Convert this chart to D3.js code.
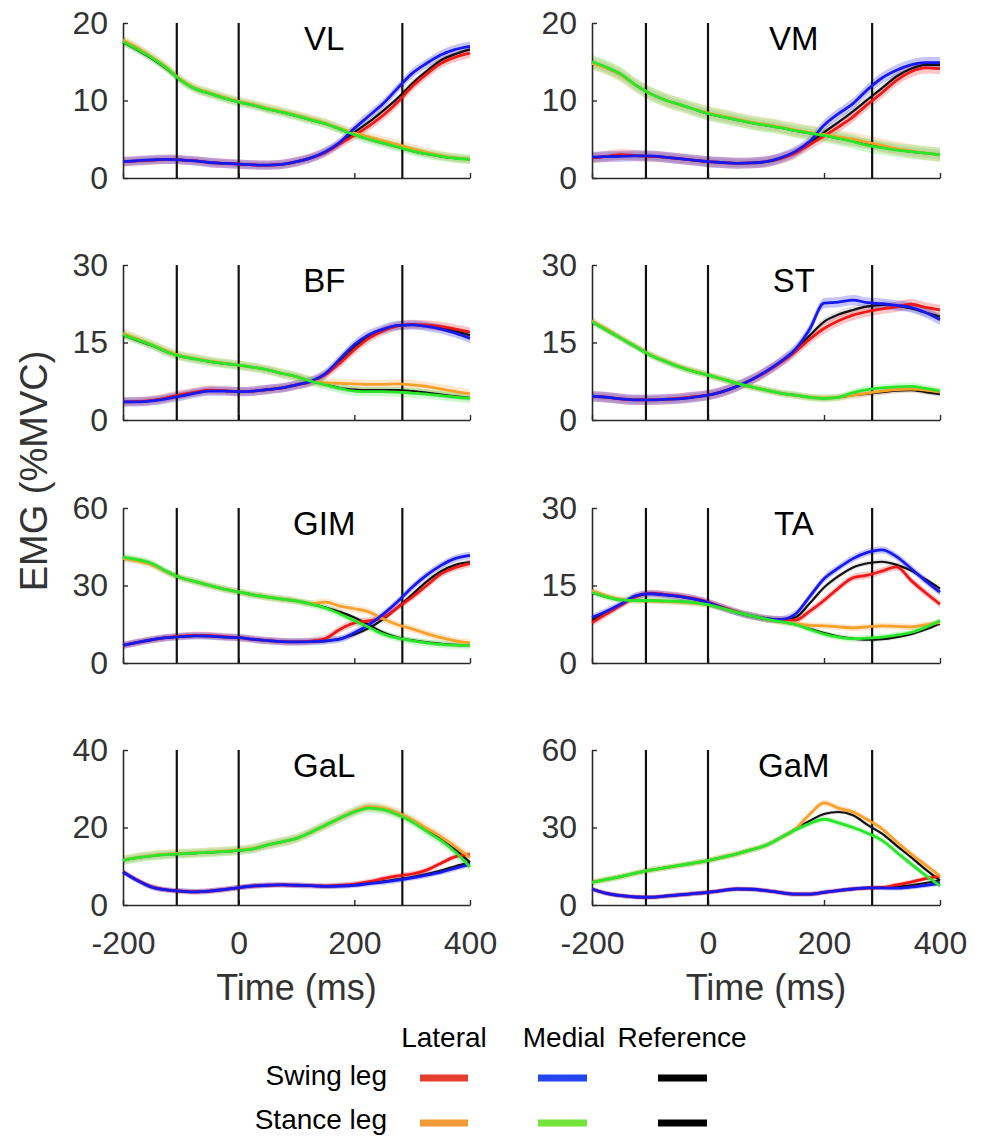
<!DOCTYPE html>
<html>
<head>
<meta charset="utf-8">
<script src="https://cdn.jsdelivr.net/npm/d3@7"></script>
<style>
  html, body { margin: 0; padding: 0; background: #fff; }
  svg { display: block; }
  text { font-family: "Liberation Sans", Arial, Helvetica, sans-serif; }
</style>
</head>
<body>
<svg id="chart" width="983" height="1137"></svg>
<script>
// ---------------- DATA ----------------
const time = [-200,-175,-150,-125,-100,-75,-50,-25,0,25,50,75,100,125,150,175,200,225,250,275,300,325,350,375,400];
const events = [-107, 0, 283];
const xTicks = [-200, 0, 200, 400];

const muscles = ["VL","VM","BF","ST","GIM","TA","GaL","GaM"];
const yMax = [20, 20, 30, 30, 60, 30, 40, 60];
const yTicks = [[0,10,20],[0,10,20],[0,15,30],[0,15,30],[0,30,60],[0,15,30],[0,20,40],[0,30,60]];

const seriesNames = ["Swing lateral","Swing medial","Swing reference","Stance lateral","Stance medial","Stance reference"];

// VL
const VL_swingLat  = [2.1,2.2,2.3,2.4,2.35,2.2,2.0,1.9,1.8,1.7,1.65,1.75,2.1,2.6,3.3,4.4,5.5,6.7,8.1,9.8,11.8,13.4,14.8,15.6,16.1];
const VL_swingMed  = [2.1,2.25,2.35,2.4,2.35,2.2,2.0,1.9,1.8,1.7,1.65,1.75,2.1,2.6,3.4,4.6,6.4,8.0,9.6,11.6,13.5,14.8,15.9,16.6,17.0];
const VL_swingRef  = [2.1,2.2,2.3,2.4,2.35,2.2,2.0,1.9,1.8,1.7,1.65,1.75,2.1,2.6,3.35,4.5,5.9,7.2,8.7,10.3,12.2,13.8,15.2,16.0,16.6];
const VL_stanceLat = [17.8,16.8,15.6,14.3,12.7,11.6,11.0,10.4,9.9,9.5,9.0,8.6,8.1,7.6,7.1,6.4,5.8,5.3,4.8,4.3,3.8,3.3,2.9,2.6,2.4];
const VL_stanceMed = [17.6,16.6,15.5,14.2,12.6,11.5,10.9,10.3,9.8,9.4,8.9,8.5,8.0,7.5,7.0,6.3,5.6,5.0,4.5,4.0,3.5,3.1,2.8,2.55,2.4];
const VL_stanceRef = [17.5,16.5,15.4,14.1,12.6,11.5,10.9,10.3,9.8,9.4,8.9,8.5,8.0,7.5,7.0,6.3,5.6,5.0,4.5,4.0,3.5,3.1,2.8,2.55,2.4];
// VM
const VM_swingLat  = [2.6,2.8,3.0,2.9,2.8,2.7,2.5,2.3,2.1,2.0,1.9,1.95,2.1,2.5,3.2,4.3,5.4,6.6,7.9,9.5,11.0,12.6,13.7,14.2,14.1];
const VM_swingMed  = [2.7,2.75,2.8,2.85,2.85,2.7,2.5,2.3,2.1,2.0,1.9,1.95,2.1,2.6,3.4,4.7,6.8,8.3,9.6,11.4,12.9,13.9,14.6,14.9,14.9];
const VM_swingRef  = [2.65,2.75,2.85,2.85,2.8,2.7,2.5,2.3,2.1,2.0,1.9,1.95,2.1,2.55,3.3,4.5,5.9,7.2,8.6,10.1,11.6,13.1,14.1,14.6,14.6];
const VM_stanceLat = [14.8,14.2,13.3,12.0,10.9,10.1,9.5,8.9,8.4,8.0,7.6,7.2,6.9,6.6,6.2,5.9,5.6,5.3,5.0,4.6,4.2,3.8,3.5,3.2,3.0];
const VM_stanceMed = [15.0,14.3,13.4,12.0,10.9,10.1,9.5,8.9,8.3,7.9,7.5,7.1,6.8,6.5,6.1,5.8,5.5,5.1,4.7,4.2,3.9,3.6,3.4,3.2,3.0];
const VM_stanceRef = [14.9,14.2,13.3,12.0,10.9,10.1,9.5,8.9,8.3,7.9,7.5,7.1,6.8,6.5,6.1,5.8,5.5,5.1,4.8,4.4,4.0,3.7,3.4,3.2,3.0];
// BF
const BF_swingLat  = [3.5,3.6,3.8,4.3,4.9,5.4,5.8,5.7,5.5,5.6,5.9,6.2,6.8,7.4,8.8,11.0,13.6,15.8,17.3,18.2,18.5,18.4,18.1,17.6,17.0];
const BF_swingMed  = [3.5,3.5,3.7,4.1,4.6,5.2,5.6,5.6,5.5,5.6,5.9,6.2,6.8,7.5,9.0,11.8,14.6,16.5,17.6,18.3,18.4,18.1,17.6,16.8,15.8];
const BF_swingRef  = [3.5,3.55,3.75,4.2,4.7,5.3,5.7,5.65,5.5,5.6,5.9,6.2,6.8,7.45,8.9,11.4,14.1,16.2,17.5,18.2,18.4,18.2,17.8,17.2,16.4];
const BF_stanceLat = [16.8,15.7,14.6,13.4,12.4,11.9,11.4,11.0,10.6,10.2,9.7,9.0,8.4,7.6,7.2,7.1,7.0,6.9,6.9,7.0,6.8,6.5,6.0,5.5,5.1];
const BF_stanceMed = [16.5,15.5,14.5,13.2,12.3,11.8,11.3,10.9,10.6,10.2,9.7,9.0,8.4,7.5,6.8,6.1,5.6,5.5,5.5,5.4,5.2,5.0,4.7,4.4,4.2];
const BF_stanceRef = [16.4,15.4,14.4,13.2,12.3,11.8,11.3,10.9,10.6,10.2,9.7,9.0,8.4,7.5,6.9,6.2,5.9,5.8,5.8,5.8,5.6,5.3,4.9,4.6,4.3];
// ST
const ST_swingLat  = [4.6,4.4,4.1,3.9,3.9,4.0,4.2,4.5,4.8,5.5,6.5,7.8,9.3,11.1,13.2,15.6,17.7,19.2,20.3,21.0,21.5,21.9,22.4,21.8,21.3];
const ST_swingMed  = [4.6,4.4,4.1,3.9,3.9,4.0,4.1,4.4,4.8,5.5,6.5,7.8,9.4,11.3,13.6,17.5,22.6,22.8,23.2,22.7,22.5,22.2,21.8,20.8,19.4];
const ST_swingRef  = [4.6,4.4,4.1,3.9,3.9,4.0,4.15,4.45,4.8,5.5,6.5,7.8,9.35,11.2,13.4,16.3,19.0,20.4,21.3,22.0,22.3,22.1,21.6,20.8,20.0];
const ST_stanceLat = [19.2,17.6,15.9,14.3,12.7,11.5,10.4,9.5,8.7,7.9,7.1,6.4,5.8,5.2,4.8,4.4,4.3,4.4,4.8,5.2,5.6,5.9,6.0,5.8,5.4];
const ST_stanceMed = [19.0,17.4,15.8,14.2,12.6,11.4,10.3,9.4,8.7,7.9,7.1,6.4,5.8,5.2,4.8,4.4,4.2,4.4,5.3,5.9,6.2,6.4,6.5,6.1,5.6];
const ST_stanceRef = [19.0,17.4,15.8,14.2,12.6,11.4,10.3,9.4,8.7,7.9,7.1,6.4,5.8,5.2,4.8,4.4,4.2,4.4,4.8,5.1,5.4,5.7,5.8,5.4,5.0];
// GIM
const GIM_swingLat  = [6.8,8.0,9.0,9.8,10.4,10.7,10.6,10.2,9.8,9.2,8.7,8.3,8.2,8.5,9.5,13.0,15.5,16.3,17.6,21.5,25.5,30.0,34.5,37.0,38.5];
const GIM_swingMed  = [6.8,8.0,9.0,9.8,10.2,10.5,10.4,10.0,9.8,9.2,8.7,8.3,8.2,8.3,8.6,9.2,11.7,14.8,18.9,23.8,29.3,34.0,37.8,40.5,41.7];
const GIM_swingRef  = [6.8,8.0,9.0,9.8,10.2,10.5,10.4,10.0,9.8,9.2,8.7,8.3,8.2,8.3,8.5,9.4,11.0,13.5,17.0,21.5,26.5,31.5,35.5,38.0,39.1];
const GIM_stanceLat = [40.5,39.5,38.0,35.2,33.0,31.5,30.0,28.6,27.5,26.4,25.5,24.7,24.0,23.0,23.6,22.0,21.0,19.8,17.0,14.8,13.2,11.4,9.8,8.6,7.8];
const GIM_stanceMed = [41.0,40.0,38.5,35.5,33.0,31.5,30.0,28.6,27.5,26.4,25.5,24.7,24.0,22.8,21.3,19.0,16.4,13.8,11.2,9.6,8.6,7.8,7.2,6.9,6.8];
const GIM_stanceRef = [40.8,39.8,38.3,35.4,33.0,31.5,30.0,28.6,27.5,26.4,25.5,24.7,24.0,22.9,21.5,19.8,17.6,14.8,11.8,9.8,8.8,8.0,7.4,7.0,6.9];
// TA
const TA_swingLat  = [7.8,9.5,11.2,12.8,13.5,13.3,13.0,12.5,11.8,10.8,9.9,9.1,8.6,8.4,8.3,10.0,12.1,14.5,16.5,17.0,17.8,18.6,16.0,13.6,11.4];
const TA_swingMed  = [8.8,10.0,11.4,13.0,13.4,13.2,12.9,12.4,11.7,10.7,9.8,9.1,8.6,8.4,9.4,12.8,16.3,18.4,20.2,21.4,21.9,20.6,18.3,15.9,13.7];
const TA_swingRef  = [8.3,9.8,11.3,12.9,13.4,13.2,12.9,12.4,11.7,10.7,9.8,9.1,8.6,8.4,8.8,11.5,14.6,16.8,18.5,19.3,19.6,19.0,17.9,16.2,14.4];
const TA_stanceLat = [14.0,13.0,12.3,12.1,12.0,11.9,11.8,11.6,11.3,10.6,9.8,9.1,8.5,8.0,7.6,7.3,7.2,7.0,6.8,7.0,7.2,7.1,7.0,7.4,7.8];
const TA_stanceMed = [13.7,12.8,12.2,12.1,12.1,12.0,11.9,11.7,11.3,10.6,9.8,9.1,8.5,8.0,7.5,6.5,5.6,5.0,4.7,4.8,5.0,5.4,5.9,6.9,8.2];
const TA_stanceRef = [13.6,12.8,12.2,12.1,12.1,12.0,11.9,11.7,11.3,10.6,9.8,9.1,8.5,8.0,7.5,6.6,5.8,5.1,4.7,4.5,4.6,5.0,5.6,6.5,7.6];
// GaL
const GaL_swingLat  = [8.6,6.4,4.7,3.9,3.6,3.4,3.6,4.0,4.5,4.9,5.1,5.2,5.1,5.0,4.9,5.1,5.4,6.0,6.8,7.5,8.0,9.0,10.8,12.5,13.0];
const GaL_swingMed  = [8.5,6.3,4.6,3.9,3.6,3.4,3.6,4.0,4.5,4.9,5.1,5.2,5.1,5.0,4.8,4.9,5.1,5.5,5.9,6.4,7.0,7.7,8.5,9.5,10.5];
const GaL_swingRef  = [8.5,6.3,4.6,3.9,3.6,3.4,3.6,4.0,4.5,4.9,5.1,5.2,5.1,5.0,4.8,4.9,5.2,5.6,6.1,6.6,7.2,8.0,8.9,10.0,11.0];
const GaL_stanceLat = [11.6,12.3,12.8,13.1,13.3,13.5,13.7,13.9,14.2,14.6,15.5,16.3,17.2,18.8,20.6,22.4,24.2,25.4,25.0,23.8,22.0,19.8,17.6,15.0,12.3];
const GaL_stanceMed = [11.5,12.2,12.7,13.0,13.2,13.4,13.6,13.8,14.1,14.5,15.5,16.3,17.2,18.8,20.6,22.4,24.0,25.0,24.6,23.3,21.5,19.0,16.6,13.6,9.8];
const GaL_stanceRef = [11.5,12.2,12.7,13.0,13.2,13.4,13.6,13.8,14.1,14.5,15.5,16.3,17.2,18.8,20.6,22.4,24.1,25.2,24.8,23.5,21.8,19.4,17.0,14.2,11.0];
// GaM
const GaM_swingLat  = [6.2,4.5,3.6,3.1,3.0,3.4,3.9,4.4,4.9,5.6,6.2,6.1,5.6,4.8,4.2,4.2,4.9,5.6,6.2,6.6,6.8,7.8,8.9,10.2,11.2];
const GaM_swingMed  = [6.2,4.5,3.6,3.1,3.0,3.4,3.9,4.4,4.9,5.6,6.2,6.1,5.6,4.8,4.2,4.2,4.9,5.6,6.2,6.6,6.6,6.5,6.9,7.6,8.4];
const GaM_swingRef  = [6.2,4.5,3.6,3.1,3.0,3.4,3.9,4.4,4.9,5.6,6.2,6.1,5.6,4.8,4.2,4.2,4.9,5.6,6.2,6.6,6.7,7.0,7.6,8.5,9.6];
const GaM_stanceLat = [8.8,9.9,11.0,12.3,13.5,14.4,15.3,16.2,17.2,18.5,19.8,21.4,23.1,26.0,29.3,35.0,39.5,37.5,36.0,33.0,29.5,24.5,19.8,15.5,11.2];
const GaM_stanceMed = [8.8,9.9,11.0,12.3,13.5,14.4,15.3,16.2,17.2,18.5,19.8,21.4,23.1,26.0,29.0,31.5,33.2,31.8,30.0,27.8,25.0,20.5,15.9,11.5,7.5];
const GaM_stanceRef = [8.8,9.9,11.0,12.3,13.5,14.4,15.3,16.2,17.2,18.5,19.8,21.4,23.1,26.0,29.2,32.5,35.2,36.0,34.7,31.0,27.6,23.0,18.5,13.8,9.5];

// standard-error half widths, order: swingLat, swingMed, swingRef, stanceLat, stanceMed, stanceRef
const VL_se  = [0.6,0.6,0.4,0.6,0.6,0.4];
const VM_se  = [0.7,0.7,0.5,0.9,0.9,0.6];
const BF_se  = [0.9,0.9,0.6,0.9,0.9,0.6];
const ST_se  = [1.0,1.0,0.7,0.7,0.7,0.5];
const GIM_se = [1.4,1.4,1.0,1.4,1.4,1.0];
const TA_se  = [0.7,0.7,0.5,0.6,0.6,0.4];
const GaL_se = [0.7,0.7,0.5,1.2,1.2,0.8];
const GaM_se = [0.9,0.9,0.7,1.2,1.2,0.8];

const legendCols = ["Lateral", "Medial", "Reference"];
const legendRows = ["Swing leg", "Stance leg"];

// ---------------- BUILD ----------------
const panelSeries = {
  VL:  [VL_swingLat, VL_swingMed, VL_swingRef, VL_stanceLat, VL_stanceMed, VL_stanceRef],
  VM:  [VM_swingLat, VM_swingMed, VM_swingRef, VM_stanceLat, VM_stanceMed, VM_stanceRef],
  BF:  [BF_swingLat, BF_swingMed, BF_swingRef, BF_stanceLat, BF_stanceMed, BF_stanceRef],
  ST:  [ST_swingLat, ST_swingMed, ST_swingRef, ST_stanceLat, ST_stanceMed, ST_stanceRef],
  GIM: [GIM_swingLat, GIM_swingMed, GIM_swingRef, GIM_stanceLat, GIM_stanceMed, GIM_stanceRef],
  TA:  [TA_swingLat, TA_swingMed, TA_swingRef, TA_stanceLat, TA_stanceMed, TA_stanceRef],
  GaL: [GaL_swingLat, GaL_swingMed, GaL_swingRef, GaL_stanceLat, GaL_stanceMed, GaL_stanceRef],
  GaM: [GaM_swingLat, GaM_swingMed, GaM_swingRef, GaM_stanceLat, GaM_stanceMed, GaM_stanceRef]
};
const panelSE = { VL: VL_se, VM: VM_se, BF: BF_se, ST: ST_se, GIM: GIM_se, TA: TA_se, GaL: GaL_se, GaM: GaM_se };

// style
const lineColors   = ["#f01818", "#1818f0", "#111111", "#f7a02c", "#2ae62a", "#111111"];
const bandColors   = ["#f04040", "#4040f0", "#888888", "#f7b060", "#60e860", "#888888"];
const legendColors = [["#e63e2e", "#2446f0", "#000000"], ["#f09a38", "#72e43a", "#000000"]];
const drawOrder = [2, 5, 0, 3, 1, 4];

const colX = [[123, 470], [592, 940]];
const rowTop = [23, 265, 508, 750];
const panelH = 155;

const svg = d3.select("#chart");

muscles.forEach((m, i) => {
  const col = i % 2, row = Math.floor(i / 2);
  const x = d3.scaleLinear().domain([-200, 400]).range(colX[col]);
  const y = d3.scaleLinear().domain([0, yMax[i]]).range([rowTop[row] + panelH, rowTop[row]]);
  const g = svg.append("g");
  const series = panelSeries[m];
  const se = panelSE[m];

  // bands
  drawOrder.forEach(s => {
    const area = d3.area()
      .x((d, k) => x(time[k]))
      .y0(d => y(Math.max(0, d - se[s])))
      .y1(d => y(d + se[s]))
      .curve(d3.curveMonotoneX);
    g.append("path").datum(series[s])
      .attr("d", area)
      .attr("fill", bandColors[s])
      .attr("fill-opacity", s === 2 || s === 5 ? 0.25 : 0.3);
  });

  // axes
  const yAxis = d3.axisLeft(y).tickValues(yTicks[i]).tickSizeInner(-5).tickSizeOuter(0).tickPadding(15)
    .tickFormat(d => String(d));
  const xAxis = d3.axisBottom(x).tickValues(xTicks).tickSizeInner(-5).tickSizeOuter(0).tickPadding(26)
    .tickFormat(row === 3 ? (d => String(d)) : () => "");
  const ya = g.append("g").attr("transform", `translate(${colX[col][0]},0)`).call(yAxis);
  const xa = g.append("g").attr("transform", `translate(0,${rowTop[row] + panelH})`).call(xAxis);
  [ya, xa].forEach(a => {
    a.select(".domain").attr("stroke", "#2a2a2a").attr("stroke-width", 1.6);
    a.selectAll(".tick line").attr("stroke", "#2a2a2a").attr("stroke-width", 1.4);
    a.selectAll(".tick text").attr("fill", "#333").style("font-size", "32px")
      .style("font-family", "'Liberation Sans', Arial, sans-serif");
  });
  xa.selectAll(".tick text").attr("dy", "0.71em");

  // event lines
  g.selectAll("line.ev").data(events).enter().append("line")
    .attr("x1", d => x(d)).attr("x2", d => x(d))
    .attr("y1", rowTop[row]).attr("y2", rowTop[row] + panelH)
    .attr("stroke", "#111").attr("stroke-width", 2.2);

  // lines
  drawOrder.forEach(s => {
    const line = d3.line().x((d, k) => x(time[k])).y(d => y(d)).curve(d3.curveMonotoneX);
    g.append("path").datum(series[s])
      .attr("d", line)
      .attr("fill", "none")
      .attr("stroke", lineColors[s])
      .attr("stroke-width", s === 2 || s === 5 ? 2.2 : 2.8)
      .attr("stroke-linejoin", "round");
  });

  // title
  g.append("text")
    .attr("x", x(148)).attr("y", rowTop[row] + 27)
    .attr("text-anchor", "middle")
    .style("font-size", "33px").attr("fill", "#000")
    .text(m);

  if (row === 3) {
    g.append("text")
      .attr("x", (colX[col][0] + colX[col][1]) / 2).attr("y", 1000)
      .attr("text-anchor", "middle")
      .style("font-size", "36px").attr("fill", "#333")
      .text("Time (ms)");
  }
});

// y label
svg.append("text")
  .attr("transform", "translate(47,471) rotate(-90)")
  .attr("text-anchor", "middle")
  .style("font-size", "38px").attr("fill", "#333")
  .text("EMG (%MVC)");

// legend
const legColX = [444, 564, 682];
const legSegX = [[420, 468], [538, 587], [658, 707]];
const legRowY = [1078, 1123];
const legRowBase = [1085, 1129];

svg.selectAll("text.legcol").data(legendCols).enter().append("text")
  .attr("x", (d, k) => legColX[k]).attr("y", 1047)
  .attr("text-anchor", "middle").style("font-size", "28px").attr("fill", "#000")
  .text(d => d);

svg.selectAll("text.legrow").data(legendRows).enter().append("text")
  .attr("x", 387).attr("y", (d, k) => legRowBase[k])
  .attr("text-anchor", "end").style("font-size", "28px").attr("fill", "#000")
  .text(d => d);

legendRows.forEach((r, ri) => {
  legendCols.forEach((c, ci) => {
    svg.append("line")
      .attr("x1", legSegX[ci][0]).attr("x2", legSegX[ci][1])
      .attr("y1", legRowY[ri]).attr("y2", legRowY[ri])
      .attr("stroke", legendColors[ri][ci]).attr("stroke-width", 7);
  });
});
</script>
</body>
</html>
